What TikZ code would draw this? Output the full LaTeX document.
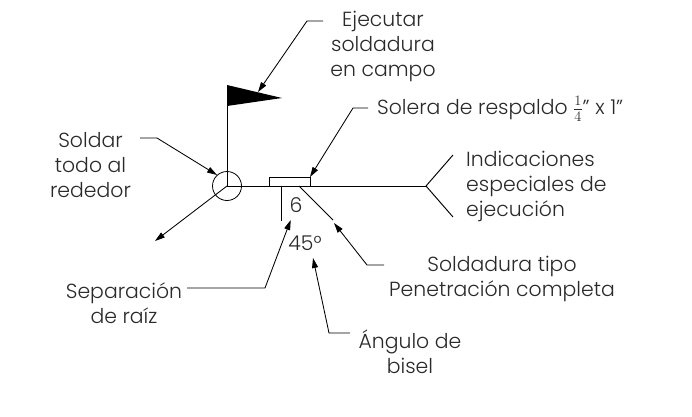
\documentclass[tikz,border=0pt]{standalone}
\usepackage{fontspec}
\setmainfont{Poppins Light}
\usetikzlibrary{arrows.meta}
\definecolor{txt}{HTML}{2A2A2A}
\tikzset{
  line/.style={draw=black,line width=0.95pt},
  leader/.style={draw=black,line width=0.85pt,-{Stealth[length=10pt,width=6pt,inset=0pt]}},
  lab/.style={font=\fontsize{20.4pt}{25pt}\selectfont,text=txt,align=center,inner sep=0pt},
  labl/.style={lab,align=left,anchor=west}
}
\begin{document}
\begin{tikzpicture}[x=1pt,y=-1pt]
\useasboundingbox[fill=white] (0,0) rectangle (692,416);
% symbol
\coordinate (pivot) at (227,186);
\coordinate (tailv) at (426,186);
\coordinate (flagtop) at (227,85);
\coordinate (flagtip) at (282,98);
\coordinate (flagbot) at (227,106);
\fill (flagtop) -- (flagtip) -- (flagbot) -- cycle;
\draw[line] (flagtop) -- (pivot) -- (tailv);
\draw[line] (453,155) -- (tailv) -- (453,217);
\draw[line,line width=0.8pt] (pivot) circle[radius=14.5];
\draw[leader] (pivot) -- (155,241);
\node[draw=black,line width=0.95pt,minimum width=41pt,minimum height=9pt,inner sep=0pt,anchor=north west] (backing) at (269,177) {};
\coordinate (rootT) at (281,186);
\coordinate (rootB) at (281,221);
\draw[line] (rootT) -- (rootB);
\coordinate (grooveT) at (299,186);
\coordinate (grooveB) at (333,220);
\draw[line] (grooveT) -- (grooveB);
\node[lab] (gap) at (296,205) {6};
\node[lab] (ang) at (305,243) {45°};
% labels
\node[lab] (field) at (383,46) {Ejecutar\\soldadura\\en campo};
\node[lab] (around) at (90.5,165) {Soldar\\todo al\\rededor};
\node[labl] (solera) at (377,109) {Solera de respaldo $\frac{1}{4}$" x 1"};
\node[labl] (notes) at (466,186) {Indicaciones\\especiales de\\ejecución};
\node[lab] (root) at (124,303) {Separación\\de raíz};
\node[lab] (type) at (502,279) {Soldadura tipo\\Penetración completa};
\node[lab] (bevel) at (410,352) {Ángulo de\\bisel};
% leaders
\coordinate (a1) at (323,21); \coordinate (a2) at (307,21); \coordinate (a3) at (258,92);
\draw[leader] (a1) -- (a2) -- (a3);
\coordinate (b1) at (140,138); \coordinate (b2) at (157,138); \coordinate (b3) at (217,175);
\draw[leader] (b1) -- (b2) -- (b3);
\coordinate (c1) at (368,108); \coordinate (c2) at (353,108); \coordinate (c3) at (310,177);
\draw[leader] (c1) -- (c2) -- (c3);
\coordinate (d1) at (187,288); \coordinate (d2) at (265,288); \coordinate (d3) at (290.7,220);
\draw[leader] (d1) -- (d2) -- (d3);
\coordinate (e1) at (384,265); \coordinate (e2) at (367,265); \coordinate (e3) at (334,223);
\draw[leader] (e1) -- (e2) -- (e3);
\coordinate (f1) at (350,333); \coordinate (f2) at (329,333); \coordinate (f3) at (313,258);
\draw[leader] (f1) -- (f2) -- (f3);
\end{tikzpicture}
\end{document}
